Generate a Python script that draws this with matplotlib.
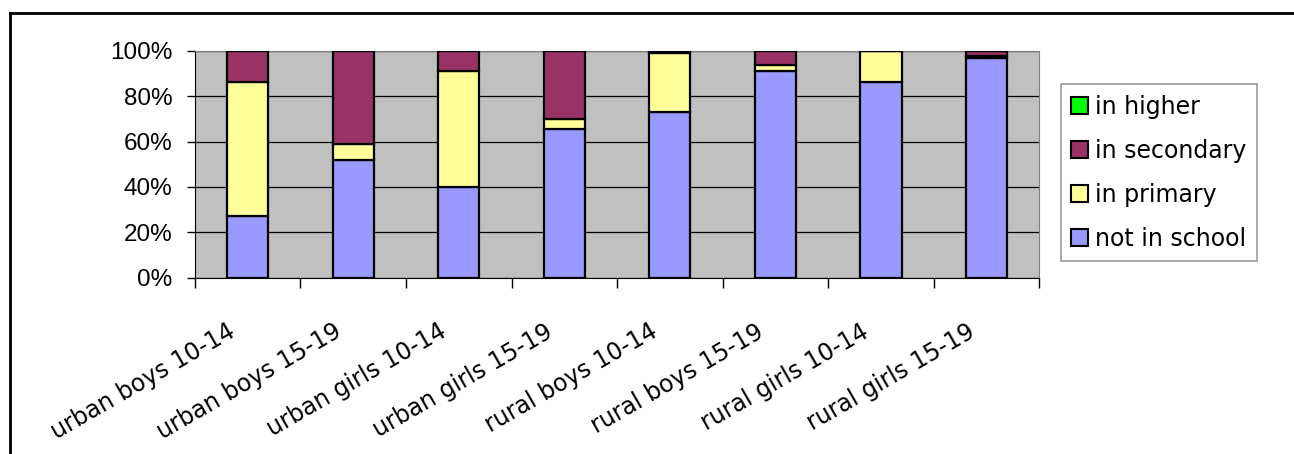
import numpy as np
import matplotlib
matplotlib.use("Agg")
import matplotlib.pyplot as plt
from matplotlib.lines import Line2D
from matplotlib.patches import Patch
from matplotlib.transforms import ScaledTranslation

# shares (%)
groups = ["urban boys 10-14", "urban boys 15-19", "urban girls 10-14", "urban girls 15-19",
          "rural boys 10-14", "rural boys 15-19", "rural girls 10-14", "rural girls 15-19"]
not_in_school = [27, 52, 40, 65.5, 73, 91.2, 86, 97]
in_primary = [59, 7, 51, 4.3, 26, 2.5, 14, 0.5]
in_secondary = [14, 41, 9, 30.2, 0.7, 6.3, 0, 2.2]
in_higher = [0, 0, 0, 0, 0.3, 0, 0, 0.3]

series = [("not in school", not_in_school, "#9999FF"),
          ("in primary", in_primary, "#FFFF99"),
          ("in secondary", in_secondary, "#993366"),
          ("in higher", in_higher, "#00FF00")]

plt.rcParams['font.family'] = ['DejaVu Sans']

fig = plt.figure(figsize=(12.94, 4.54), dpi=100)
ax = fig.add_axes([0.1505, 0.3883, 0.6528, 0.5])
ax.set_facecolor("#C0C0C0")

x = np.arange(len(groups))
bottom = np.zeros(len(groups))
for name, vals, col in series:
    vals = np.array(vals, dtype=float)
    ax.bar(x, vals, 0.39, bottom=bottom, color=col, edgecolor="black", linewidth=1.6, zorder=3)
    bottom += vals

ax.set_xlim(-0.5, len(groups) - 0.5)
ax.set_ylim(0, 100)
ax.set_yticks(np.arange(0, 101, 20))
ax.set_yticklabels([f"{v}%" for v in range(0, 101, 20)], fontsize=17.5, family="Liberation Sans")
ax.yaxis.grid(True, color="black", linewidth=0.9, zorder=1)
ax.set_axisbelow(True)

# ticks between categories, labels at centres
ax.set_xticks(np.arange(-0.5, len(groups), 1.0))
ax.set_xticklabels([])
ax.set_xticks(x, minor=True)
ax.set_xticklabels(groups, minor=True, rotation=30, ha="right", va="top", fontsize=17)
ax.tick_params(axis="x", which="minor", length=0, pad=30)
ax.tick_params(axis="x", which="major", length=7, width=1, direction="out")
ax.tick_params(axis="y", length=6, width=1, direction="out", pad=10)
shift = ScaledTranslation(-8 / 100, 0, fig.dpi_scale_trans)
for lab in ax.get_xticklabels(minor=True):
    lab.set_transform(lab.get_transform() + shift)

for s in ["top", "right"]:
    ax.spines[s].set_color("#808080")
for s in ["left", "bottom"]:
    ax.spines[s].set_color("black")

handles = [Patch(facecolor=col, edgecolor="black", linewidth=1.5, label=name) for name, _, col in series[::-1]]
leg = fig.legend(handles=handles, loc="upper left", bbox_to_anchor=(1060.7 / 1294, 1 - 84 / 454),
                 fontsize=17, frameon=True, fancybox=False, edgecolor="#808080",
                 handlelength=0.72, handleheight=0.72, handletextpad=0.3, labelspacing=0.85,
                 borderpad=0.45, borderaxespad=0)
leg.get_frame().set_linewidth(1.2)

# chart border (left and top)
fig.add_artist(Line2D([10 / 1294, 10 / 1294], [0, 1 - 13 / 454], color="black", linewidth=2))
fig.add_artist(Line2D([10 / 1294, 1], [1 - 13 / 454, 1 - 13 / 454], color="black", linewidth=2))

fig.savefig("out.png", dpi=100)
